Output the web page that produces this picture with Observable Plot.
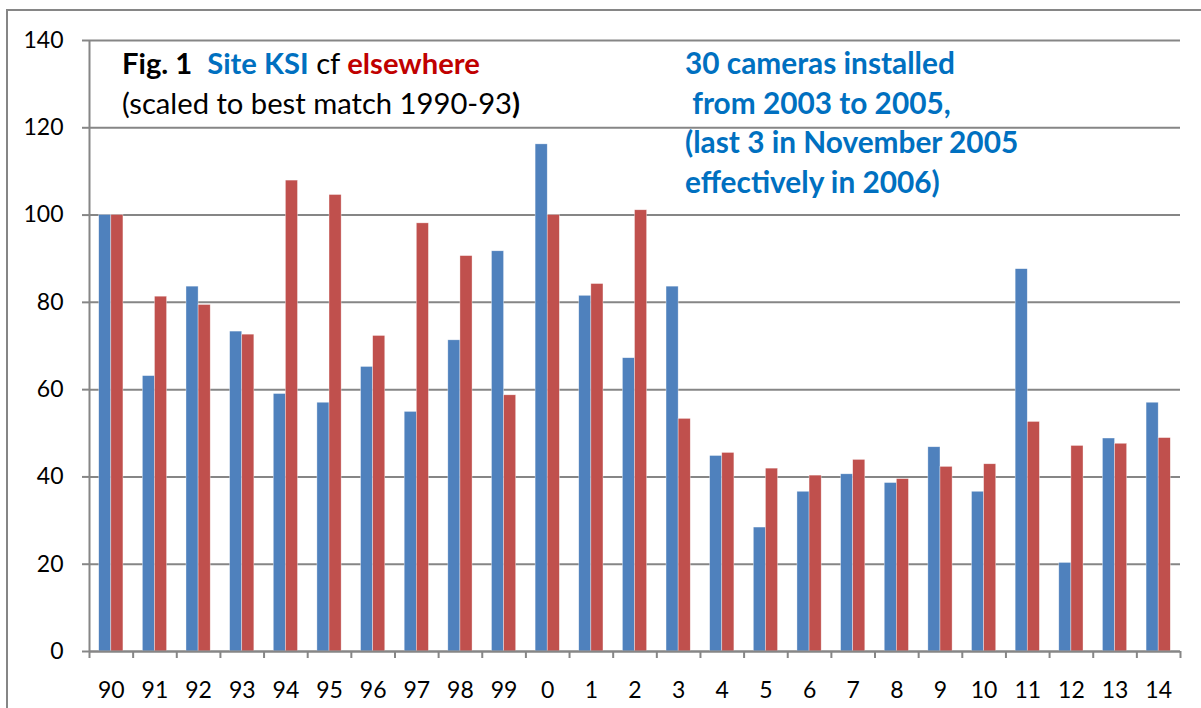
<!DOCTYPE html>
<html>
<head>
<meta charset="utf-8">
<script src="https://cdn.jsdelivr.net/npm/d3@7"></script>
<script src="https://cdn.jsdelivr.net/npm/@observablehq/plot@0.6"></script>
<style>
  html, body { margin: 0; padding: 0; background: #fff; }
  #wrap { position: relative; width: 1201px; height: 708px; overflow: hidden; font-family: Lato, "Open Sans", sans-serif; }
  #border { position: absolute; left: 6px; top: 9px; width: 1300px; height: 800px; border-left: 2.5px solid #868686; border-top: 2.5px solid #868686; box-sizing: border-box; }
  #chart { position: absolute; left: 0; top: 0; }
  .note { position: absolute; line-height: 39.5px; white-space: pre; }
  #title { left: 122px; top: 43px; font-size: 29.2px; color: #000; }
  #cams { left: 685px; top: 43px; font-size: 29.8px; font-weight: bold; color: #0070C0; }
  .b { font-weight: bold; }
  .blue { color: #0070C0; }
  .red { color: #C00000; }
</style>
</head>
<body>
<div id="wrap">
  <div id="border"></div>
  <div id="chart"></div>
  <div class="note" id="title"><span class="b">Fig. 1</span>  <span class="b blue">Site KSI</span> cf <span class="b red">elsewhere</span>
(scaled to best match 1990-93<span class="b">)</span></div>
  <div class="note" id="cams">30 cameras installed
 from 2003 to 2005,
(last 3 in November 2005
effectively in 2006)</div>
</div>
<script>
const years = ["90","91","92","93","94","95","96","97","98","99","0","1","2","3","4","5","6","7","8","9","10","11","12","13","14"];
const siteKSI = [100, 63.1, 83.6, 73.3, 59.0, 57.0, 65.2, 54.9, 71.3, 91.7, 116.2, 81.5, 67.2, 83.6, 44.8, 28.4, 36.6, 40.6, 38.6, 46.8, 36.6, 87.6, 20.3, 48.8, 57.0];
const elsewhere = [100, 81.3, 79.4, 72.6, 107.9, 104.6, 72.3, 98.1, 90.6, 58.7, 100, 84.2, 101.1, 53.3, 45.5, 41.9, 40.3, 43.9, 39.5, 42.3, 42.9, 52.6, 47.1, 47.6, 48.9];
const yTicks = [0, 20, 40, 60, 80, 100, 120, 140];

const data = years.map((year, i) => ({year, site: siteKSI[i], other: elsewhere[i]}));

const W = 1201, H = 708;
const mL = 89, mR = 21, mT = 40, mB = 57;
const step = (W - mL - mR) / years.length;
const gap = step * 0.2225; // Excel gap width 80%
const half = step * 0.5;
const grey = "#868686";

const chart = Plot.plot({
  width: W,
  height: H,
  marginLeft: mL,
  marginRight: mR,
  marginTop: mT,
  marginBottom: mB,
  style: {fontFamily: "Lato, 'Open Sans', sans-serif", fontSize: "23px", color: "#000", background: "transparent"},
  x: {type: "band", domain: years, padding: 0, round: false},
  y: {domain: [0, 140]},
  marks: [
    Plot.gridY(yTicks, {stroke: grey, strokeOpacity: 1, strokeWidth: 2}),
    Plot.barY(data, {x: "year", y: "site", fill: "#4F81BD", insetLeft: gap, insetRight: half, stroke: "#fff", strokeWidth: 0.6, strokeOpacity: 0.6}),
    Plot.barY(data, {x: "year", y: "other", fill: "#C0504D", insetLeft: half, insetRight: gap, stroke: "#fff", strokeWidth: 0.6, strokeOpacity: 0.6}),
    Plot.ruleY([0], {stroke: grey, strokeWidth: 2}),
    Plot.ruleX([years[0]], {dx: -half, y1: 0, y2: 140, stroke: grey, strokeWidth: 2}),
    Plot.axisY({ticks: yTicks, tickSize: 7, tickPadding: 19, stroke: grey, strokeWidth: 2, strokeOpacity: 1, fontSize: 23, label: null}),
    Plot.axisX({tickSize: 0, tickPadding: 30, fontSize: 23, label: null}),
    Plot.axisX({ticks: years, tickSize: 7, text: null, dx: -half, stroke: grey, strokeWidth: 2, strokeOpacity: 1, label: null}),
    Plot.axisX({ticks: [years[years.length - 1]], tickSize: 7, text: null, dx: half, stroke: grey, strokeWidth: 2, strokeOpacity: 1, label: null})
  ]
});
document.getElementById("chart").appendChild(chart);
</script>
</body>
</html>
